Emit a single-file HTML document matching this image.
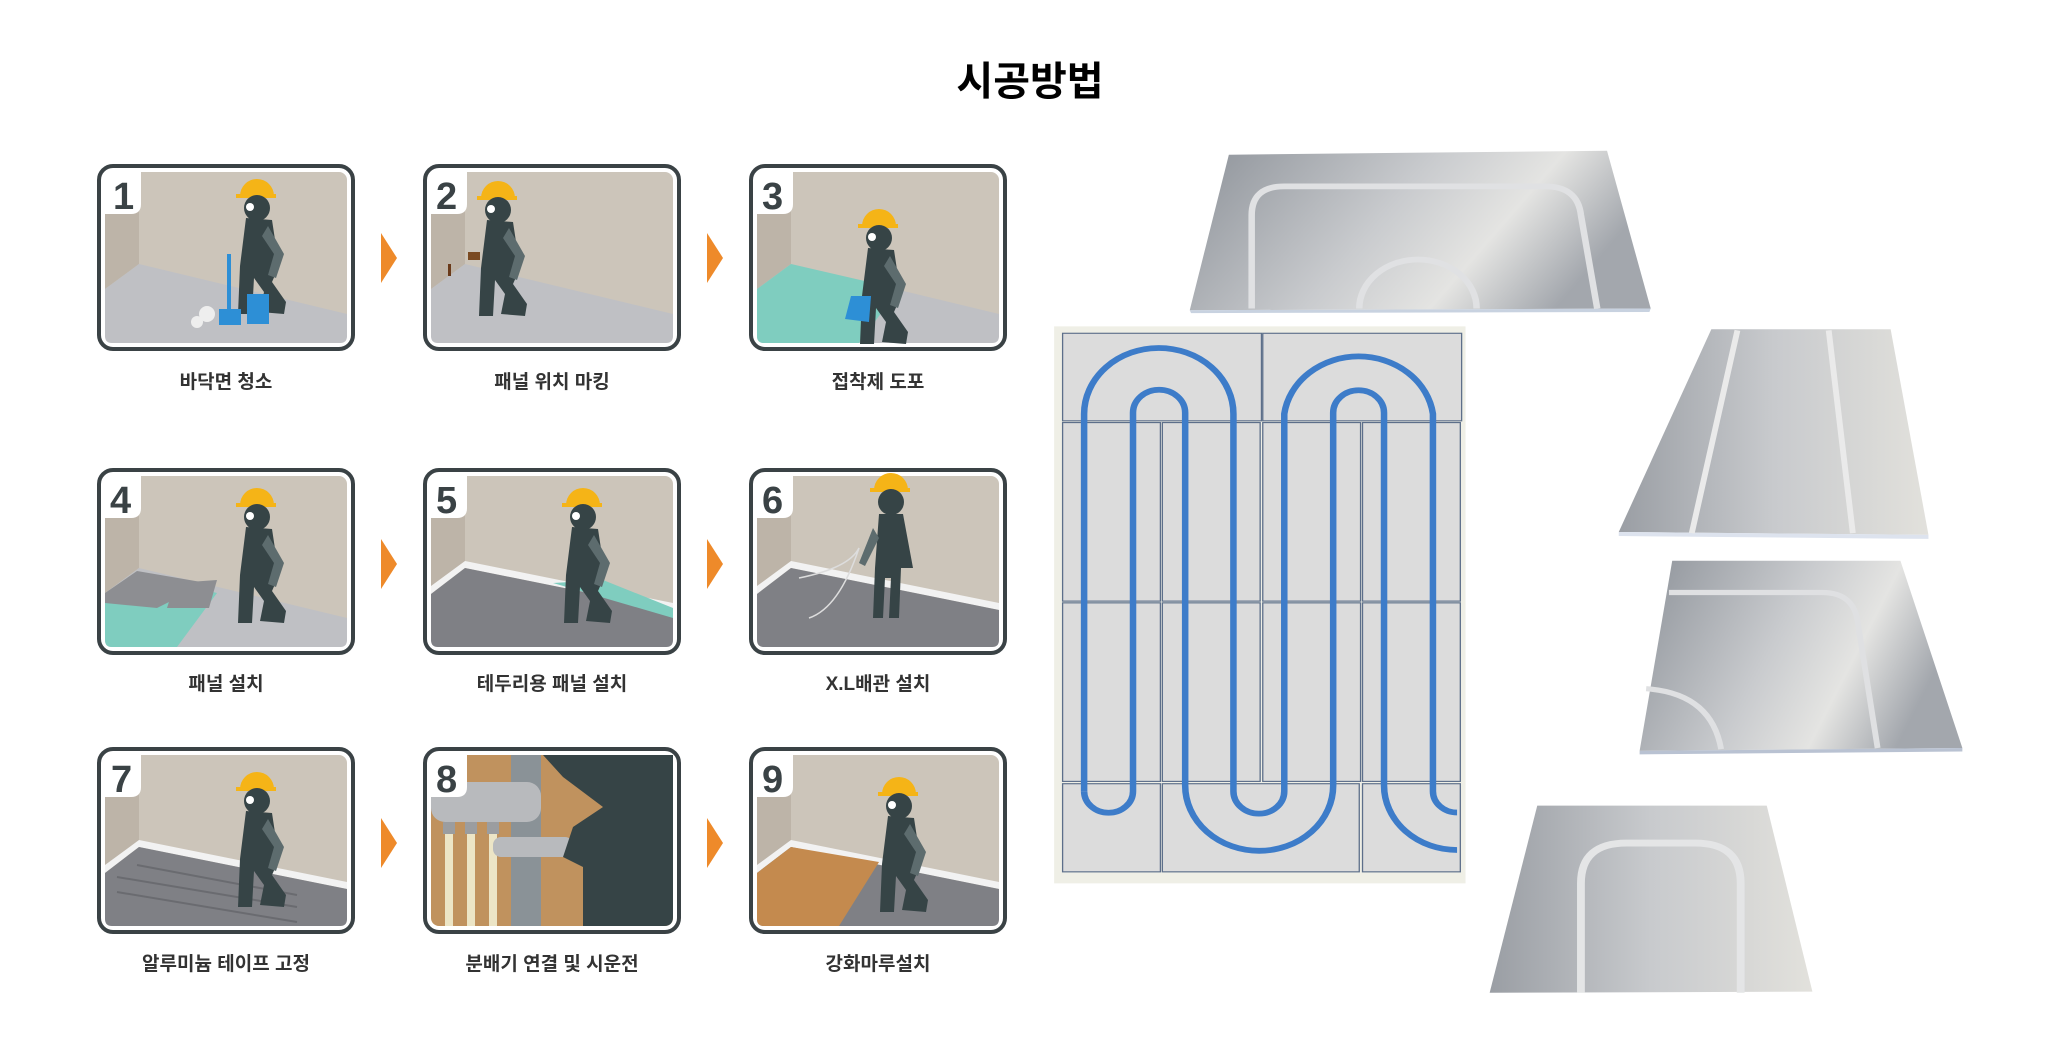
<!DOCTYPE html>
<html><head><meta charset="utf-8"><style>
html,body{margin:0;padding:0;background:#fff;overflow:hidden;}
svg{display:block;}
text{font-family:"Liberation Sans","Noto Sans CJK KR",sans-serif;}
</style></head><body>
<svg width="2052" height="1045" viewBox="0 0 2052 1045" xmlns="http://www.w3.org/2000/svg">
<defs>
<linearGradient id="al" x1="0" y1="0" x2="1" y2="0.3">
<stop offset="0" stop-color="#8d9299"/><stop offset="0.5" stop-color="#c9cbce"/><stop offset="0.75" stop-color="#e4e4e2"/><stop offset="1" stop-color="#a3a7ad"/></linearGradient>
<linearGradient id="al2" x1="0" y1="0" x2="1" y2="0">
<stop offset="0" stop-color="#9a9ea4"/><stop offset="0.5" stop-color="#c8cacd"/><stop offset="1" stop-color="#e2e1dc"/></linearGradient>
<g id="worker">
<path d="M158 42 A17 17 0 0 1 192 42 Z" fill="#f5b417"/>
<rect x="154" y="40" width="40" height="4" fill="#f5b417"/>
<circle cx="175" cy="54" r="13" fill="#364446"/>
<circle cx="168" cy="53" r="4" fill="#fff"/>
<path d="M164 64 L190 66 L197 112 L190 128 L204 148 L202 160 L178 158 L182 138 L172 124 L170 160 L156 160 L158 112 Z" fill="#364446"/>
<path d="M186 72 L202 100 L194 124 L186 121 L192 100 L180 82 Z" fill="#5d6c6e"/>
</g>
<g id="bg">
<rect x="2" y="2" width="254" height="183" rx="14" fill="#fff" stroke="#3a4245" stroke-width="4"/>
<rect x="8" y="8" width="242" height="171" rx="8" fill="#ccc5ba"/>
<polygon points="8,8 42,8 42,100 8,125" fill="#bdb4a8"/>
</g>
</defs>

<text x="1030" y="95" font-size="40" font-weight="bold" text-anchor="middle" fill="#000">시공방법</text>

<!-- Card 1 -->
<g transform="translate(97,164)">
<use href="#bg"/>
<path d="M8 125 L42 100 L250 150 L250 172 Q250 179 243 179 L15 179 Q8 179 8 172 Z" fill="#bfc0c4"/>
<use href="#worker" transform="translate(-15,-10)"/>
<rect x="130" y="90" width="4" height="60" fill="#2d8fd6"/><rect x="122" y="145" width="22" height="16" fill="#2d8fd6"/>
<rect x="150" y="130" width="22" height="30" fill="#2d8fd6"/>
<circle cx="110" cy="150" r="8" fill="#eee"/><circle cx="100" cy="158" r="6" fill="#eee"/>
<path d="M8 8 H44 V40 Q44 50 34 50 H8 Z" fill="#fff"/>
<text x="16" y="45" font-size="38" font-weight="bold" fill="#3a4245">1</text>
</g>
<!-- Card 2 -->
<g transform="translate(423,164)">
<use href="#bg"/>
<path d="M8 125 L42 100 L250 150 L250 172 Q250 179 243 179 L15 179 Q8 179 8 172 Z" fill="#bfc0c4"/>
<use href="#worker" transform="translate(-100,-8)"/>
<rect x="25" y="100" width="3" height="12" fill="#6a3a1a"/><rect x="45" y="88" width="12" height="8" fill="#7a4a22"/>
<path d="M8 8 H44 V40 Q44 50 34 50 H8 Z" fill="#fff"/>
<text x="13" y="45" font-size="38" font-weight="bold" fill="#3a4245">2</text>
</g>
<!-- Card 3 -->
<g transform="translate(749,164)">
<use href="#bg"/>
<path d="M8 125 L42 100 L250 150 L250 172 Q250 179 243 179 L15 179 Q8 179 8 172 Z" fill="#bfc0c4"/>
<path d="M8 125 L42 100 L150 125 L110 179 L15 179 Q8 179 8 172 Z" fill="#7fcdbf"/>
<use href="#worker" transform="translate(-45,20)"/>
<polygon points="102,132 122,132 120,158 96,155" fill="#2d8fd6"/>
<path d="M8 8 H44 V40 Q44 50 34 50 H8 Z" fill="#fff"/>
<text x="13" y="45" font-size="38" font-weight="bold" fill="#3a4245">3</text>
</g>
<!-- Card 4 -->
<g transform="translate(97,468)">
<use href="#bg"/>
<path d="M8 125 L42 100 L250 150 L250 172 Q250 179 243 179 L15 179 Q8 179 8 172 Z" fill="#bfc0c4"/>
<path d="M8 130 L42 105 L120 125 L80 179 L15 179 Q8 179 8 172 Z" fill="#7fcdbf"/>
<polygon points="8,125 40,103 110,115 60,140 8,135" fill="#8d8e92"/>
<polygon points="78,115 120,112 112,140 70,140" fill="#8d8e92"/>
<use href="#worker" transform="translate(-15,-5)"/>
<path d="M8 8 H44 V40 Q44 50 34 50 H8 Z" fill="#fff"/>
<text x="13" y="45" font-size="38" font-weight="bold" fill="#3a4245">4</text>
</g>
<!-- Card 5 -->
<g transform="translate(423,468)">
<use href="#bg"/>
<polygon points="8,118 42,93 250,135 250,142 42,100 8,126" fill="#f2f2f2"/>
<path d="M8 126 L42 100 L250 142 L250 172 Q250 179 243 179 L15 179 Q8 179 8 172 Z" fill="#7f8085"/>
<polygon points="130,115 180,112 250,140 250,150" fill="#7fcdbf"/>
<use href="#worker" transform="translate(-15,-5)"/>
<path d="M8 8 H44 V40 Q44 50 34 50 H8 Z" fill="#fff"/>
<text x="13" y="45" font-size="38" font-weight="bold" fill="#3a4245">5</text>
</g>
<!-- Card 6 -->
<g transform="translate(749,468)">
<use href="#bg"/>
<polygon points="8,118 42,93 250,135 250,142 42,100 8,126" fill="#f2f2f2"/>
<path d="M8 126 L42 100 L250 142 L250 172 Q250 179 243 179 L15 179 Q8 179 8 172 Z" fill="#7f8085"/>
<path d="M50 110 Q100 100 110 80 Q90 140 60 150" fill="none" stroke="#ddd" stroke-width="1.5"/>
<path d="M125 8 A17 17 0 0 1 159 8" fill="#f5b417" transform="translate(0,14)"/>
<rect x="121" y="20" width="40" height="4" fill="#f5b417"/>
<circle cx="142" cy="34" r="13" fill="#364446"/>
<path d="M130 46 L154 46 L164 100 L152 100 L150 150 L140 150 L142 110 L136 110 L134 150 L124 150 L126 100 Z" fill="#364446"/>
<path d="M124 60 L110 95 L116 98 L130 70 Z" fill="#5d6c6e"/>
<path d="M8 8 H44 V40 Q44 50 34 50 H8 Z" fill="#fff"/>
<text x="13" y="45" font-size="38" font-weight="bold" fill="#3a4245">6</text>
</g>
<!-- Card 7 -->
<g transform="translate(97,747)">
<use href="#bg"/>
<polygon points="8,118 42,93 250,135 250,142 42,100 8,126" fill="#f2f2f2"/>
<path d="M8 126 L42 100 L250 142 L250 172 Q250 179 243 179 L15 179 Q8 179 8 172 Z" fill="#7f8085"/>
<path d="M20 130 L200 160 M20 145 L200 175 M40 118 L200 148" stroke="#6a6b70" stroke-width="2"/>
<use href="#worker" transform="translate(-15,0)"/>
<path d="M8 8 H44 V40 Q44 50 34 50 H8 Z" fill="#fff"/>
<text x="14" y="45" font-size="38" font-weight="bold" fill="#3a4245">7</text>
</g>
<!-- Card 8 -->
<g transform="translate(423,747)">
<rect x="2" y="2" width="254" height="183" rx="14" fill="#fff" stroke="#3a4245" stroke-width="4"/>
<rect x="8" y="8" width="242" height="171" rx="8" fill="#c0925e"/>
<rect x="88" y="8" width="30" height="171" fill="#8a9297"/>
<rect x="8" y="35" width="110" height="40" rx="14" fill="#b8babd"/>
<rect x="22" y="85" width="8" height="94" fill="#ece5c6"/><rect x="44" y="85" width="8" height="94" fill="#ece5c6"/><rect x="66" y="85" width="8" height="94" fill="#ece5c6"/>
<rect x="20" y="75" width="12" height="12" fill="#9b9da0"/><rect x="42" y="75" width="12" height="12" fill="#9b9da0"/><rect x="64" y="75" width="12" height="12" fill="#9b9da0"/>
<rect x="70" y="90" width="80" height="20" rx="8" fill="#b8babd"/>
<path d="M120 8 H250 V170 Q250 179 241 179 H160 V120 L140 110 L150 80 L180 60 L140 30 Z" fill="#364446"/>
<path d="M8 8 H44 V40 Q44 50 34 50 H8 Z" fill="#fff"/>
<text x="13" y="45" font-size="38" font-weight="bold" fill="#3a4245">8</text>
</g>
<!-- Card 9 -->
<g transform="translate(749,747)">
<use href="#bg"/>
<polygon points="8,118 42,93 250,135 250,142 42,100 8,126" fill="#f2f2f2"/>
<path d="M8 126 L42 100 L250 142 L250 172 Q250 179 243 179 L15 179 Q8 179 8 172 Z" fill="#7f8085"/>
<path d="M8 126 L42 100 L130 115 L90 179 L15 179 Q8 179 8 172 Z" fill="#c48a4e"/>
<use href="#worker" transform="translate(-25,5)"/>
<path d="M8 8 H44 V40 Q44 50 34 50 H8 Z" fill="#fff"/>
<text x="13" y="45" font-size="38" font-weight="bold" fill="#3a4245">9</text>
</g>

<!-- arrows -->
<g fill="#ee8a2a">
<polygon points="381,233 397,258 381,283"/><polygon points="707,233 723,258 707,283"/>
<polygon points="381,539 397,564 381,589"/><polygon points="707,539 723,564 707,589"/>
<polygon points="381,818 397,843 381,868"/><polygon points="707,818 723,843 707,868"/>
</g>

<!-- labels -->
<g font-size="19" font-weight="bold" fill="#333" text-anchor="middle">
<text x="226" y="388">바닥면 청소</text>
<text x="552" y="388">패널 위치 마킹</text>
<text x="878" y="388">접착제 도포</text>
<text x="226" y="690">패널 설치</text>
<text x="552" y="690">테두리용 패널 설치</text>
<text x="878" y="690">X.L배관 설치</text>
<text x="226" y="970">알루미늄 테이프 고정</text>
<text x="552" y="970">분배기 연결 및 시운전</text>
<text x="878" y="970">강화마루설치</text>
</g>

<!-- right side, zoom coords -->
<g transform="translate(1030,100) scale(0.652,0.576)">
<rect x="37" y="393" width="631" height="967" fill="#efefe6"/>
<g fill="#dcdcdc" stroke="#5d6f8a" stroke-width="2">
<rect x="50" y="405" width="305" height="152"/><rect x="357" y="405" width="305" height="152"/>
<rect x="50" y="560" width="150" height="310"/><rect x="203" y="560" width="150" height="310"/><rect x="357" y="560" width="150" height="310"/><rect x="510" y="560" width="150" height="310"/>
<rect x="50" y="873" width="150" height="310"/><rect x="203" y="873" width="150" height="310"/><rect x="357" y="873" width="150" height="310"/><rect x="510" y="873" width="150" height="310"/>
<rect x="50" y="1187" width="150" height="153"/><rect x="203" y="1187" width="302" height="153"/><rect x="510" y="1187" width="150" height="153"/>
</g>
<g fill="none" stroke="#3d7cc9" stroke-width="10">
<path d="M83 1200 V545 A114.5 114.5 0 0 1 312 545 V1200 A39 39 0 0 0 390 1200 V545 A115 115 0 0 1 618 545 V1200 A37 37 0 0 0 655 1237"/>
<path d="M83 1200 A37.5 37.5 0 0 0 158 1200 V543 A40 40 0 0 1 238 543 V1190 A113.5 113.5 0 0 0 465 1190 V543 A39 39 0 0 1 543 543 V1190 A112 112 0 0 0 655 1302"/>
</g>
<!-- panels -->
<polygon points="305,95 885,88 952,362 245,365" fill="url(#al)"/>
<path d="M245 365 L952 362 L950 368 L247 370Z" fill="#c8d2e0"/>
<path d="M340 362 V200 Q340 150 390 150 H790 Q840 150 845 200 L870 362" fill="none" stroke="#e0e1e3" stroke-width="10"/>
<path d="M505 362 A90 85 0 0 1 685 362" fill="none" stroke="#e0e1e3" stroke-width="10"/>
<polygon points="1045,398 1320,398 1378,755 903,750" fill="url(#al2)"/>
<path d="M903 750 L1378 755 L1378 762 L903 757Z" fill="#dde3ee"/>
<path d="M1085 400 L1015 752 M1225 400 L1262 752" stroke="#eaeaea" stroke-width="9"/>
<polygon points="985,800 1335,800 1430,1125 935,1130" fill="url(#al)"/>
<path d="M935 1130 L1430 1125 L1430 1131 L935 1136Z" fill="#b9c2d2"/>
<path d="M980 855 H1215 Q1265 855 1270 910 L1300 1125" fill="none" stroke="#dfe0e2" stroke-width="9"/>
<path d="M945 1022 Q1045 1030 1060 1127" fill="none" stroke="#dfe0e2" stroke-width="9"/>
<polygon points="778,1225 1130,1225 1200,1548 705,1550" fill="url(#al2)"/>
<path d="M845 1550 V1360 Q845 1290 915 1290 H1020 Q1090 1290 1090 1360 V1550" fill="none" stroke="#e4e5e6" stroke-width="12"/>
</g>
</svg>
</body></html>
